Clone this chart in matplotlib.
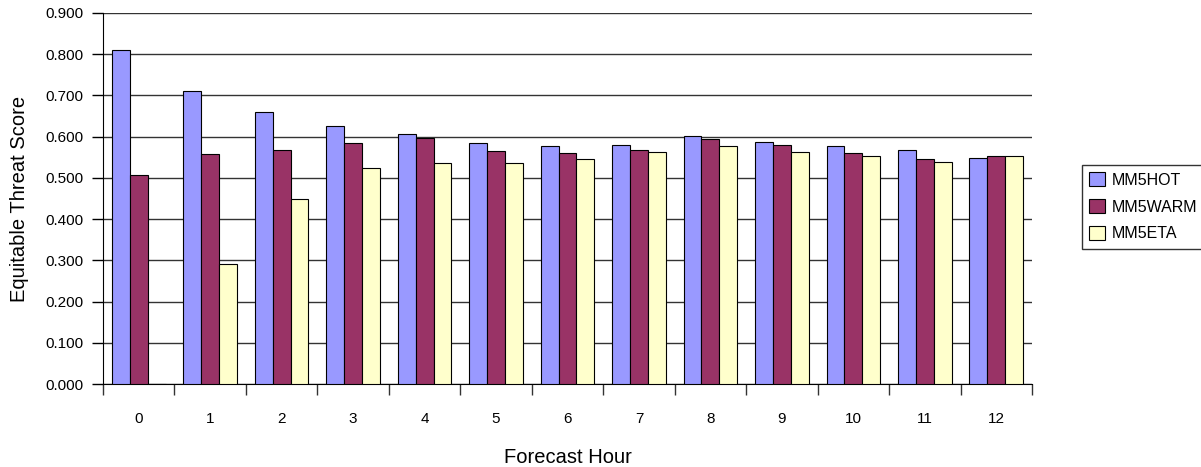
import numpy as np
import matplotlib
matplotlib.use("Agg")
import matplotlib.pyplot as plt
from matplotlib.ticker import FixedLocator, NullFormatter

# ----------------------------
# Data
# ----------------------------
hours = ["0", "1", "2", "3", "4", "5", "6", "7", "8", "9", "10", "11", "12"]
mm5hot = [0.810, 0.710, 0.659, 0.625, 0.606, 0.585, 0.578, 0.580, 0.602, 0.587, 0.578, 0.568, 0.548]
mm5warm = [0.508, 0.557, 0.567, 0.584, 0.597, 0.565, 0.560, 0.567, 0.594, 0.580, 0.560, 0.545, 0.552]
mm5eta = [0.000, 0.290, 0.449, 0.524, 0.535, 0.535, 0.545, 0.564, 0.578, 0.564, 0.554, 0.539, 0.552]
series_names = ["MM5HOT", "MM5WARM", "MM5ETA"]
y_ticks = [0.0, 0.1, 0.2, 0.3, 0.4, 0.5, 0.6, 0.7, 0.8, 0.9]

colours = ["#9999FF", "#993366", "#FFFFCC"]

plt.rcParams["font.family"] = ["Liberation Sans", "DejaVu Sans"]

fig = plt.figure(figsize=(12.01, 4.67), dpi=100)
ax = fig.add_axes([103 / 1201, 83 / 467, (1032 - 103) / 1201, (384 - 13) / 467])

x = np.arange(len(hours))
width = 0.25
handles = []
for i, (vals, name, col) in enumerate(zip([mm5hot, mm5warm, mm5eta], series_names, colours)):
    h = ax.bar(x + (i - 1) * width, vals, width, color=col, edgecolor="black",
               linewidth=0.8, label=name, zorder=3)
    handles.append(h)

ax.set_xlim(-0.5, len(hours) - 0.5)
ax.set_ylim(0, 0.9)

# y axis
ax.set_yticks(y_ticks)
ax.set_yticklabels([f"{v:.3f}" for v in y_ticks])
ax.yaxis.grid(True, color="#333333", linewidth=1.0, zorder=0)
ax.tick_params(axis="y", direction="out", length=8, width=1, colors="black",
               labelsize=11, pad=6)

# x axis: labels at centers, tick marks between categories
ax.set_xticks(x)
ax.set_xticklabels(hours)
ax.tick_params(axis="x", which="major", length=0, labelsize=11, pad=20)
ax.xaxis.set_minor_locator(FixedLocator(np.arange(-0.5, len(hours), 1.0)))
ax.xaxis.set_minor_formatter(NullFormatter())
ax.tick_params(axis="x", which="minor", direction="out", length=8, width=1, color="#333333")

for side in ["top", "right"]:
    ax.spines[side].set_visible(False)
ax.spines["left"].set_color("black")
ax.spines["bottom"].set_color("black")

ax.set_ylabel("Equitable Threat Score", fontsize=14.5, labelpad=12)
ax.set_xlabel("Forecast Hour", fontsize=14.5, labelpad=16)

leg = fig.legend(handles=handles, labels=series_names, loc="upper left",
                 bbox_to_anchor=(1082 / 1201, 1 - 165 / 467), frameon=True,
                 fancybox=False, edgecolor="black", fontsize=11.5,
                 handlelength=1.0, handleheight=1.0, borderpad=0.45,
                 labelspacing=0.7, handletextpad=0.4, borderaxespad=0)
leg.get_frame().set_linewidth(1.0)

fig.savefig("out.png", dpi=100, facecolor="white")
